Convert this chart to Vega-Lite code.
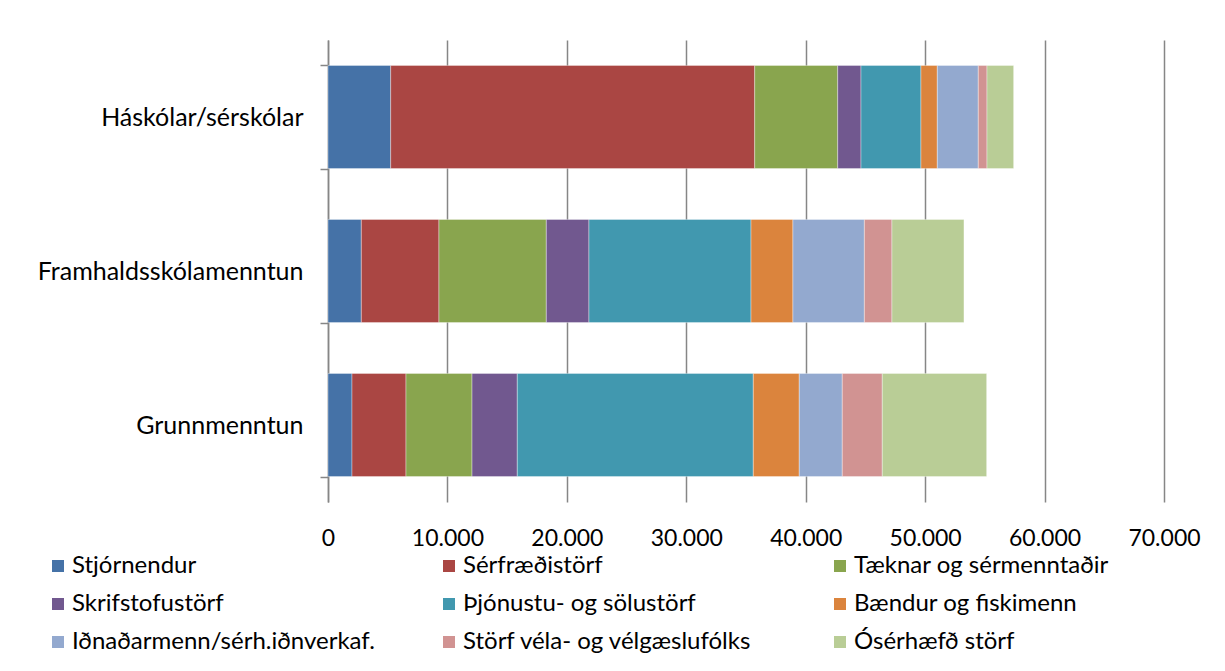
{
  "$schema": "https://vega.github.io/schema/vega-lite/v6.json",
  "width": 836,
  "height": 462,
  "autosize": {"type": "none"},
  "padding": {"left": 328, "top": 40, "right": 61, "bottom": 169},
  "background": "white",
  "config": {
    "view": {"stroke": null},
    "font": "Lato"
  },
  "data": {
    "values": [
      {"menntun": "Háskólar/sérskólar", "starf": "Stjórnendur", "rod": 1, "fjoldi": 5250},
      {"menntun": "Háskólar/sérskólar", "starf": "Sérfræðistörf", "rod": 2, "fjoldi": 30480},
      {"menntun": "Háskólar/sérskólar", "starf": "Tæknar og sérmenntaðir", "rod": 3, "fjoldi": 6950},
      {"menntun": "Háskólar/sérskólar", "starf": "Skrifstofustörf", "rod": 4, "fjoldi": 1950},
      {"menntun": "Háskólar/sérskólar", "starf": "Þjónustu- og sölustörf", "rod": 5, "fjoldi": 5020},
      {"menntun": "Háskólar/sérskólar", "starf": "Bændur og fiskimenn", "rod": 6, "fjoldi": 1370},
      {"menntun": "Háskólar/sérskólar", "starf": "Iðnaðarmenn/sérh.iðnverkaf.", "rod": 7, "fjoldi": 3430},
      {"menntun": "Háskólar/sérskólar", "starf": "Störf véla- og vélgæslufólks", "rod": 8, "fjoldi": 730},
      {"menntun": "Háskólar/sérskólar", "starf": "Ósérhæfð störf", "rod": 9, "fjoldi": 2230},
      {"menntun": "Framhaldsskólamenntun", "starf": "Stjórnendur", "rod": 1, "fjoldi": 2790},
      {"menntun": "Framhaldsskólamenntun", "starf": "Sérfræðistörf", "rod": 2, "fjoldi": 6500},
      {"menntun": "Framhaldsskólamenntun", "starf": "Tæknar og sérmenntaðir", "rod": 3, "fjoldi": 8990},
      {"menntun": "Framhaldsskólamenntun", "starf": "Skrifstofustörf", "rod": 4, "fjoldi": 3570},
      {"menntun": "Framhaldsskólamenntun", "starf": "Þjónustu- og sölustörf", "rod": 5, "fjoldi": 13570},
      {"menntun": "Framhaldsskólamenntun", "starf": "Bændur og fiskimenn", "rod": 6, "fjoldi": 3510},
      {"menntun": "Framhaldsskólamenntun", "starf": "Iðnaðarmenn/sérh.iðnverkaf.", "rod": 7, "fjoldi": 5980},
      {"menntun": "Framhaldsskólamenntun", "starf": "Störf véla- og vélgæslufólks", "rod": 8, "fjoldi": 2310},
      {"menntun": "Framhaldsskólamenntun", "starf": "Ósérhæfð störf", "rod": 9, "fjoldi": 6030},
      {"menntun": "Grunnmenntun", "starf": "Stjórnendur", "rod": 1, "fjoldi": 2010},
      {"menntun": "Grunnmenntun", "starf": "Sérfræðistörf", "rod": 2, "fjoldi": 4520},
      {"menntun": "Grunnmenntun", "starf": "Tæknar og sérmenntaðir", "rod": 3, "fjoldi": 5530},
      {"menntun": "Grunnmenntun", "starf": "Skrifstofustörf", "rod": 4, "fjoldi": 3790},
      {"menntun": "Grunnmenntun", "starf": "Þjónustu- og sölustörf", "rod": 5, "fjoldi": 19760},
      {"menntun": "Grunnmenntun", "starf": "Bændur og fiskimenn", "rod": 6, "fjoldi": 3850},
      {"menntun": "Grunnmenntun", "starf": "Iðnaðarmenn/sérh.iðnverkaf.", "rod": 7, "fjoldi": 3600},
      {"menntun": "Grunnmenntun", "starf": "Störf véla- og vélgæslufólks", "rod": 8, "fjoldi": 3350},
      {"menntun": "Grunnmenntun", "starf": "Ósérhæfð störf", "rod": 9, "fjoldi": 8740}
    ]
  },
  "mark": {"type": "bar", "stroke": "#ffffff", "strokeWidth": 0.6, "strokeOpacity": 0.6},
  "encoding": {
    "y": {
      "field": "menntun",
      "type": "nominal",
      "sort": ["Háskólar/sérskólar", "Framhaldsskólamenntun", "Grunnmenntun"],
      "scale": {"paddingInner": 0.33, "paddingOuter": 0.165},
      "axis": {
        "title": null,
        "domainColor": "#868686",
        "domainWidth": 1.5,
        "tickColor": "#868686",
        "tickWidth": 1.5,
        "tickSize": 8,
        "tickBand": "extent",
        "labelFontSize": 25,
        "labelColor": "#000000",
        "labelPadding": 17,
        "labelFont": "Lato",
        "labelLimit": 400
      }
    },
    "x": {
      "field": "fjoldi",
      "type": "quantitative",
      "stack": "zero",
      "scale": {"domain": [0, 70000], "nice": false},
      "axis": {
        "title": null,
        "values": [0, 10000, 20000, 30000, 40000, 50000, 60000, 70000],
        "labelExpr": "replace(format(datum.value, ','), ',', '.')",
        "labelFlush": false,
        "labelOverlap": false,
        "grid": true,
        "gridColor": "#868686",
        "gridWidth": 1.5,
        "domain": false,
        "ticks": false,
        "labelFontSize": 23,
        "labelColor": "#000000",
        "labelPadding": 25,
        "labelFont": "Lato"
      }
    },
    "order": {"field": "rod", "type": "quantitative"},
    "color": {
      "field": "starf",
      "type": "nominal",
      "scale": {
        "domain": ["Stjórnendur", "Sérfræðistörf", "Tæknar og sérmenntaðir", "Skrifstofustörf", "Þjónustu- og sölustörf", "Bændur og fiskimenn", "Iðnaðarmenn/sérh.iðnverkaf.", "Störf véla- og vélgæslufólks", "Ósérhæfð störf"],
        "range": ["#4572A7", "#AA4643", "#89A54E", "#71588F", "#4198AF", "#DB843D", "#93A9CF", "#D19392", "#B9CD96"]
      },
      "legend": {
        "title": null,
        "orient": "none",
        "legendX": -282,
        "legendY": 514,
        "direction": "horizontal",
        "columns": 3,
        "gridAlign": "all",
        "columnPadding": 62,
        "rowPadding": 14,
        "symbolType": "square",
        "symbolSize": 144,
        "symbolStrokeWidth": 0,
        "labelFontSize": 24,
        "labelColor": "#000000",
        "labelOffset": 2,
        "labelFont": "Lato",
        "labelLimit": 400
      }
    }
  }
}
